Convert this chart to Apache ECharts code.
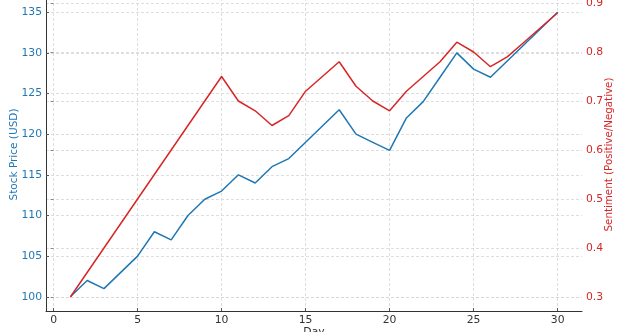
<!DOCTYPE html>
<html><head><meta charset="utf-8">
<script src="https://cdn.jsdelivr.net/npm/echarts@6/dist/echarts.min.js"></script>
<style>html,body{margin:0;padding:0;background:#fff}#c{width:628px;height:332px}</style>
</head><body><div id="c"></div>
<script>
const days = [1,2,3,4,5,6,7,8,9,10,11,12,13,14,15,16,17,18,19,20,21,22,23,24,25,26,27,28,29,30];
const price = [100,102,101,103,105,108,107,110,112,113,115,114,116,117,119,121,123,120,119,118,122,124,127,130,128,127,129,131,133,135];
const sentiment = [0.30,0.35,0.40,0.45,0.50,0.55,0.60,0.65,0.70,0.75,0.70,0.68,0.65,0.67,0.72,0.75,0.78,0.73,0.70,0.68,0.72,0.75,0.78,0.82,0.80,0.77,0.79,0.82,0.85,0.88];
const xTicks = [0,5,10,15,20,25,30];
const priceTicks = [100,105,110,115,120,125,130,135];
const sentTicks = [0.3,0.4,0.5,0.6,0.7,0.8,0.9];

const BLUE = '#1f77b4', RED = '#d62728';
const FONT = 'DejaVu Sans';
const gridLine = {show:true, lineStyle:{color:'#d6d6d6', type:[3,2], width:0.8}};

const chart = echarts.init(document.getElementById('c'), null, {renderer:'canvas'});
chart.setOption({
  animation:false,
  backgroundColor:'#fff',
  textStyle:{fontFamily:FONT},
  grid:{left:46, right:46, top:-2, bottom:21, containLabel:false, outerBoundsMode:'none'},
  xAxis:{
    type:'value', min:-0.45, max:31.45,
    name:'Day', nameLocation:'middle', nameGap:16, nameMoveOverlap:false,
    nameTextStyle:{color:'#333', fontSize:10.8, fontFamily:FONT},
    axisLine:{show:true, onZero:false, lineStyle:{color:'#333', width:1}},
    axisTick:{show:true, inside:true, length:3, customValues:xTicks, lineStyle:{color:'#555'}},
    axisLabel:{color:'#333', fontSize:10.8, margin:4, fontFamily:FONT, customValues:xTicks, formatter:v=>String(v)},
    splitLine:gridLine
  },
  yAxis:[{
    type:'value', position:'left', min:98.25, max:136.75,
    name:'Stock Price (USD)', nameLocation:'middle', nameGap:26, nameRotate:90, nameMoveOverlap:false,
    nameTextStyle:{color:BLUE, fontSize:10.5, fontFamily:FONT},
    axisLine:{show:true, onZero:false, lineStyle:{color:'#333', width:1}},
    axisTick:{show:true, inside:true, length:3, customValues:priceTicks, lineStyle:{color:'#555'}},
    axisLabel:{color:BLUE, fontSize:10.8, margin:4, fontFamily:FONT, customValues:priceTicks, formatter:v=>String(v)},
    splitLine:gridLine
  },{
    type:'value', position:'right', min:0.2714, max:0.9102,
    name:'Sentiment (Positive/Negative)', nameLocation:'middle', nameGap:22, nameRotate:90, nameMoveOverlap:false,
    nameTextStyle:{color:RED, fontSize:10.3, fontFamily:FONT},
    axisLine:{show:false},
    axisTick:{show:true, inside:true, length:3, customValues:sentTicks, lineStyle:{color:'#888'}},
    axisLabel:{color:RED, fontSize:10.8, margin:4, fontFamily:FONT, customValues:sentTicks, formatter:v=>v.toFixed(1)},
    splitLine:gridLine
  }],
  series:[{
    name:'Stock Price', type:'line', yAxisIndex:0, showSymbol:false, symbol:'none',
    lineStyle:{color:BLUE, width:1.5}, itemStyle:{color:BLUE},
    data:days.map((d,i)=>[d, price[i]])
  },{
    name:'Sentiment', type:'line', yAxisIndex:1, showSymbol:false, symbol:'none',
    lineStyle:{color:RED, width:1.5}, itemStyle:{color:RED},
    data:days.map((d,i)=>[d, sentiment[i]])
  }]
});
</script></body></html>
